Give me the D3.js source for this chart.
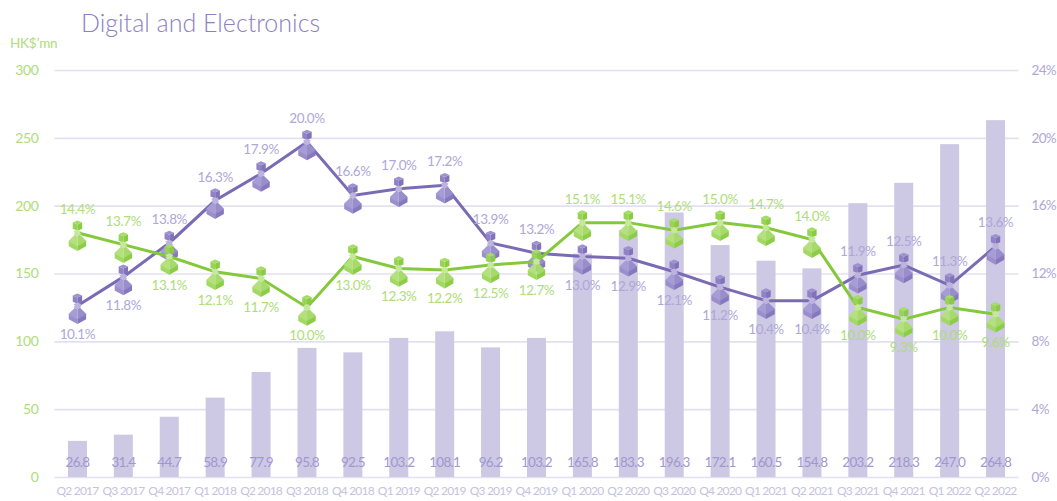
<!DOCTYPE html>
<!-- Digital and Electronics: quarterly bars with two percentage lines and pawn markers -->
<html>
<head>
<meta charset="utf-8">
<style>
  html, body { margin: 0; background: #fff; }
  text { font-family: "Lato", "Open Sans", sans-serif; font-weight: 400; opacity: 0.99; }
</style>
</head>
<body>
<div id="graph_div"></div>

<script src="https://d3js.org/d3.v7.min.js"></script>

<script>

const quarters = ["Q2 2017","Q3 2017","Q4 2017","Q1 2018","Q2 2018","Q3 2018","Q4 2018","Q1 2019","Q2 2019","Q3 2019","Q4 2019","Q1 2020","Q2 2020","Q3 2020","Q4 2020","Q1 2021","Q2 2021","Q3 2021","Q4 2021","Q1 2022","Q2 2022"];
const revenue = [26.8,31.4,44.7,58.9,77.9,95.8,92.5,103.2,108.1,96.2,103.2,165.8,183.3,196.3,172.1,160.5,154.8,203.2,218.3,247.0,264.8];
// line heights, they differ a little from the printed labels in places
const purple_pct = [10.1,11.8,13.8,16.3,17.9,19.75,16.6,17.0,17.2,13.8,13.2,13.0,12.9,12.1,11.2,10.4,10.4,11.9,12.5,11.3,13.6];
const green_pct = [14.4,13.7,13.0,12.1,11.7,10.0,13.0,12.3,12.2,12.5,12.7,15.0,15.0,14.55,15.0,14.7,14.0,10.0,9.3,10.0,9.6];
const purple_labels = ["10.1%","11.8%","13.8%","16.3%","17.9%","20.0%","16.6%","17.0%","17.2%","13.9%","13.2%","13.0%","12.9%","12.1%","11.2%","10.4%","10.4%","11.9%","12.5%","11.3%","13.6%"];
const green_labels = ["14.4%","13.7%","13.1%","12.1%","11.7%","10.0%","13.0%","12.3%","12.2%","12.5%","12.7%","15.1%","15.1%","14.6%","15.0%","14.7%","14.0%","10.0%","9.3%","10.0%","9.6%"];
const left_ticks = [0,50,100,150,200,250,300];
const right_ticks = [0,4,8,12,16,20,24];

const width = 1057, height = 501;
const margin = {top: 70, right: 38.5, bottom: 24, left: 54.5};

const svg = d3.select("#graph_div").append("svg")
  .attr("width", width)
  .attr("height", height)
  .style("display", "block");

const x = d3.scaleBand().domain(quarters).range([margin.left, width - margin.right]);
const y_left = d3.scaleLinear().domain([0, 300]).range([height - margin.bottom, margin.top]);
// bars in the picture come out slightly shorter than the left axis says
const y_bar = d3.scaleLinear().domain([0, 302]).range([height - margin.bottom, margin.top]);
const y_right = d3.scaleLinear().domain([0, 24]).range([height - margin.bottom, margin.top]);
const cx = q => x(q) + x.bandwidth() / 2;

// gridlines and left axis
const left_axis = svg.append("g")
  .attr("transform", "translate(" + margin.left + ",0)")
  .call(d3.axisLeft(y_left).tickValues(left_ticks).tickSize(-(width - margin.left - margin.right)).tickPadding(16));
left_axis.select(".domain").remove();
left_axis.selectAll("line").attr("stroke", "#e3e0f0").attr("stroke-width", 1.6);
left_axis.selectAll("text").attr("fill", "#aedd78").style("font-size", "14px").style("letter-spacing", "-0.4px");

// right axis
const right_axis = svg.append("g")
  .attr("transform", "translate(" + (width - margin.right) + ",0)")
  .call(d3.axisRight(y_right).tickValues(right_ticks).tickFormat(d => d + "%").tickSize(0).tickPadding(13));
right_axis.select(".domain").remove();
right_axis.selectAll("text").attr("fill", "#aea7d8").style("font-size", "13.5px").style("letter-spacing", "-0.7px");

// bottom axis
const bottom_axis = svg.append("g")
  .attr("transform", "translate(0," + (height - margin.bottom) + ")")
  .call(d3.axisBottom(x).tickSize(0).tickPadding(9));
bottom_axis.select(".domain").remove();
bottom_axis.selectAll("text")
  .attr("fill", "#c6c2e0")
  .style("font-size", "12px")
  .style("letter-spacing", "-0.8px");

// bars
svg.selectAll(".bar")
  .data(quarters)
  .enter().append("rect")
    .attr("class", "bar")
    .attr("x", d => cx(d) - 9.5)
    .attr("width", 19)
    .attr("y", (d, i) => y_bar(revenue[i]))
    .attr("height", (d, i) => y_bar(0) - y_bar(revenue[i]))
    .attr("fill", "#cdc9e4");

// bar values
svg.selectAll(".bar_label")
  .data(quarters)
  .enter().append("text")
    .attr("class", "bar_label")
    .attr("x", d => cx(d))
    .attr("y", height - margin.bottom - 10)
    .attr("text-anchor", "middle")
    .attr("fill", "#a097cf")
    .style("font-size", "13.5px")
    .style("letter-spacing", "-0.7px")
    .text((d, i) => revenue[i].toFixed(1));

// pawn marker drawn around the point on the line
function draw_pawn(g, c) {
  g.append("path").attr("d", "M-4.7,-10.3L0,-8.3V-2L-4.7,-4Z").attr("fill", c.head_l);
  g.append("path").attr("d", "M4.7,-10.3L0,-8.3V-2L4.7,-4Z").attr("fill", c.head_r);
  g.append("path").attr("d", "M0,-12.3L4.7,-10.3L0,-8.3L-4.7,-10.3Z").attr("fill", c.head_t);
  g.append("path").attr("d", "M-2.5,2L0,3V14L-8.7,9V8Z").attr("fill", c.body_l);
  g.append("path").attr("d", "M2.5,2L0,3V14L8.7,9V8Z").attr("fill", c.body_r);
  g.append("path").attr("d", "M-8.7,8.5L0,13.5V18.3L-8.7,13.5Z").attr("fill", c.slab_l);
  g.append("path").attr("d", "M8.7,8.5L0,13.5V18.3L8.7,13.5Z").attr("fill", c.slab_r);
  g.append("path").attr("d", "M-4,-1.5L0,-3.3L4,-1.5L2.5,0L4,1.5L0,3.3L-4,1.5L-2.5,0Z").attr("fill", c.collar);
}

function draw_series(values, labels, other, line_color, pawn_colors, label_color) {
  const line = d3.line()
    .x(d => cx(d))
    .y((d, i) => y_right(values[i]));

  svg.append("path")
    .attr("d", line(quarters))
    .attr("fill", "none")
    .attr("stroke", line_color)
    .attr("stroke-width", 3);

  svg.selectAll(null)
    .data(quarters)
    .enter().append("g")
      .attr("transform", (d, i) => "translate(" + cx(d) + "," + y_right(values[i]) + ")")
      .call(draw_pawn, pawn_colors);

  // the higher series is labelled above its point, the lower one below
  svg.selectAll(null)
    .data(quarters)
    .enter().append("text")
      .attr("x", d => cx(d))
      .attr("y", (d, i) => y_right(values[i]) + (values[i] > other[i] ? -19 : 33))
      .attr("text-anchor", "middle")
      .attr("fill", label_color)
      .style("font-size", "13.5px")
      .style("letter-spacing", "-0.4px")
      .text((d, i) => labels[i]);
}

draw_series(purple_pct, purple_labels, green_pct, "#7a6bb5",
  {head_t: "#9d92cf", head_l: "#8f83c5", head_r: "#8073b9", collar: "#bcb4de", body_l: "#a79dd5", body_r: "#998ecc", slab_l: "#9a8fcc", slab_r: "#8578bd"},
  "#aea7d8");
draw_series(green_pct, green_labels, purple_pct, "#84c93a",
  {head_t: "#a5dc66", head_l: "#98d454", head_r: "#8acb42", collar: "#c6e89e", body_l: "#b4e07f", body_r: "#a7da6b", slab_l: "#a2d962", slab_r: "#8ccd47"},
  "#aedd78");

// title and unit
svg.append("text")
  .attr("x", 81).attr("y", 32)
  .attr("fill", "#8a80bf")
  .style("font-size", "25px")
  .style("font-weight", 300)
  .text("Digital and Electronics");

svg.append("text")
  .attr("x", 10).attr("y", 48)
  .attr("fill", "#aedd78")
  .style("font-size", "13.5px")
  .style("letter-spacing", "-0.2px")
  .text("HK$\u2019mn");

</script>
</body>
</html>
